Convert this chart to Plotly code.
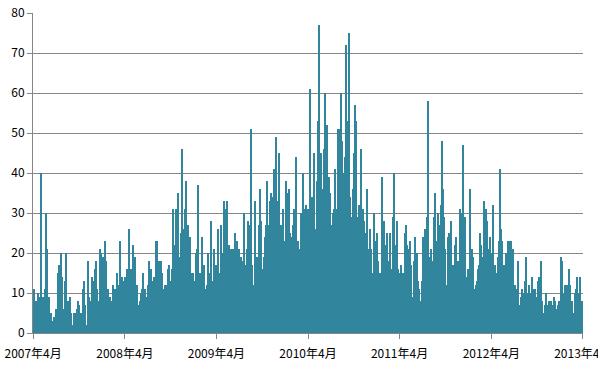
import pandas as pd
import plotly.graph_objects as go

# Values, one per ~4-day step, left to right
seg1 = [11,7,8,6,10,9,1,40,9,8,9,11,30,21,4,9,4,5,3,2,4,3,6,4,15,17,4,20,14,6,6,13,20,7,8,7,9,5,2,2,5,5,3,6,8,7,5,5,4,11,13,7]
seg2 = [2,0,18,9,8,7,14,4,13,16,18,11,8,7,21,20,13,19,8,23,18,8,11,8,9,6,8,12,5,11,11,15,11,12,23,9,14,9,13,14,8,16,14,26,15,16,4,22,8,19,4,12,6,7,8]
seg3 = [10,11,15,11,11,9,6,12,18,10,16,13,13,14,14,23,23,16,18,11,18,15,9,11,12,12,11,16,17,11,13,16,31,22,16,31,16,35,13,19,25,46,26,22,31,38,21,27,18,24,11,15,15,11,13,20]
seg4 = [21,37,12,15,10,24,14,17,5,11,12,20,15,12,28,13,12,21,8,17,15,26,14,15,27,16,20,33,31,12,33,22,22,17,21,21,13,21,25,10,23,9,21,14,19,18,17,30,10,17,21,28,25,27]
seg5 = [51,17,8,12,33,13,19,14,27,36,28,16,15,19,24,27,38,27,24,33,35,34,28,41,36,49,24,33,45,20,27,18,31,23,22,38,35,23,36,25,24,21,27,31,19,44,23,23,19,21,30,27,40,31,25,32,31,31]
seg6 = [61,26,34,22,45,19,26,38,53,77,40,45,21,36,46,60,25,52,21,39,35,25,27,30,31,41,31,31,51,51,31,60,48,36,40,44,72,38,53,75,34,29,29,36,45,57,53,29,25,32,26,46,26,31,28,25]
seg7 = [25,36,21,18,26,21,15,14,30,13,23,25,18,6,15,12,39,20,28,19,22,25,18,14,25,16,13,29,40,10,22,28,16,15,14,17,13,15,0,25,27,22,21,16,23,17,9,5,18,24,15,20,13,11,5,8]
seg8 = [13,24,17,26,22,29,58,19,14,21,18,15,29,35,23,15,30,27,22,32,48,36,29,21,10,12,24,25,23,28,11,17,16,22,24,13,18,16,31,30,25,47,27,29,14,13,16,16,36,16,21,19,8,11,12,13]
seg9 = [16,17,25,22,16,19,33,27,31,28,9,21,24,16,20,32,16,17,15,9,19,23,41,26,23,17,12,17,20,9,23,20,23,23,18,21,11,12,11,11,18,7,6,9,11,10,9,13,19,9,10,12,9,10,14,11]
seg10 = [9,11,7,9,13,14,7,18,8,4,5,7,10,7,7,8,7,8,7,7,9,8,6,5,7,8,8,19,18,10,7,12,6,12,7,16,12,5,8,4,5,10,11,14,8,10,14,4,8,2]

values = seg1 + seg2 + seg3 + seg4 + seg5 + seg6 + seg7 + seg8 + seg9 + seg10
dates = pd.date_range("2007-04-03", periods=len(values), freq="4D")

tick_dates = ["2007-04-01", "2008-04-01", "2009-04-01", "2010-04-01",
              "2011-04-01", "2012-04-01", "2013-04-01"]
tick_labels = ["2007年4月", "2008年4月", "2009年4月", "2010年4月",
               "2011年4月", "2012年4月", "2013年4月"]

fig = go.Figure()
fig.add_trace(go.Bar(x=dates, y=values, marker=dict(color="#31859C", line=dict(width=0))))

grid = "#868686"
fig.update_layout(
    width=598, height=369,
    margin=dict(l=33, r=15, t=13, b=36, autoexpand=False),
    paper_bgcolor="white", plot_bgcolor="white",
    bargap=0, showlegend=False,
    font=dict(family="Noto Sans CJK JP, Noto Sans, sans-serif", size=12, color="#000000"),
)
fig.update_xaxes(
    type="date", range=["2007-03-31 12:00", "2013-04-01 12:00"],
    tickvals=tick_dates, ticktext=tick_labels,
    showgrid=False, showline=True, linecolor=grid, linewidth=1,
    ticks="outside", ticklen=5, tickcolor=grid, automargin=False,
    ticklabeloverflow="allow", ticklabelstandoff=5,
)
fig.update_yaxes(
    range=[0, 80], dtick=10,
    showgrid=True, gridcolor=grid, gridwidth=1, zeroline=False,
    showline=True, linecolor=grid, linewidth=1,
    ticks="outside", ticklen=5, tickcolor=grid, automargin=False,
)

fig.write_html(
    "out.html",
    config={"displayModeBar": False},
    post_script="document.body.style.margin='0';document.body.style.overflow='hidden';",
)
